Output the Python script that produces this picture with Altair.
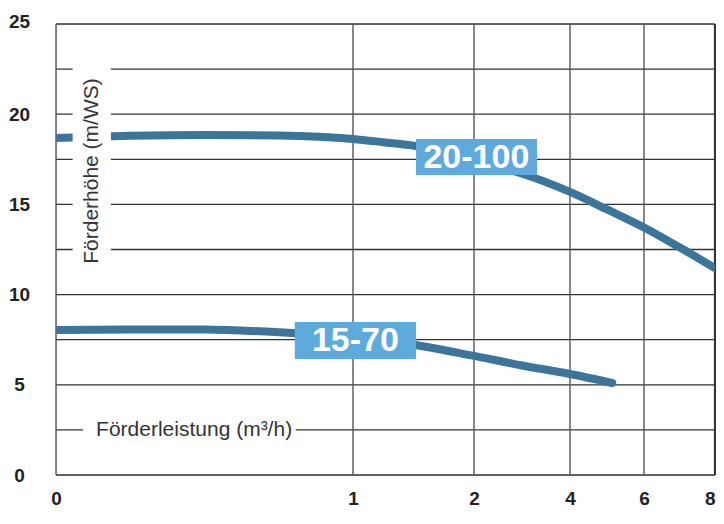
import altair as alt
import pandas as pd

# ---- data ----
x_ticks = [0, 1, 2, 4, 6, 8]
y_ticks = [0, 5, 10, 15, 20, 25]
grid_y = [0, 2.5, 5, 7.5, 10, 12.5, 15, 17.5, 20, 22.5, 25]
grid_x = [0, 1, 2, 4, 6, 8]

q_20_100 = [0, 0.25, 0.5, 0.75, 1.0, 1.25, 1.52, 2.0, 2.5, 2.96, 4.0, 5.0, 6.0, 7.0, 8.0]
h_20_100 = [18.68, 18.8, 18.85, 18.82, 18.63, 18.45, 18.24, 17.45, 17.1, 16.74, 15.69, 14.72, 13.72, 12.62, 11.47]

q_15_70 = [0, 0.25, 0.5, 0.8, 1.0, 1.52, 2.0, 3.0, 4.0, 5.14]
h_15_70 = [8.04, 8.07, 8.06, 7.87, 7.68, 7.21, 6.6, 6.07, 5.6, 5.1]

series_names = ["20-100", "15-70"]
# label boxes (data units): x1, x2, y1, y2, text x, text y
box_x1 = [1.521, 0.804]
box_x2 = [3.3125, 1.521]
box_y1 = [18.63, 8.48]
box_y2 = [16.63, 6.43]
box_tx = [2.05, 1.02]
box_ty = [17.63, 7.46]

y_title = "Förderhöhe (m/WS)"
x_title = "Förderleistung (m³/h)"
# annotation positions (data units) and their white backgrounds
ytitle_pos = (0.12, 16.85)
ytitle_bg = (0.056, 0.185, 22.8, 11.5)
xtitle_pos = (0.465, 2.5)
xtitle_bg = (0.091, 0.807, 3.0, 2.0)

# ---- scales (hand-drawn, piecewise x axis) ----
xs = alt.Scale(domain=x_ticks, range=[0, 297, 418, 514, 588, 659], nice=False, zero=False)
ys = alt.Scale(domain=[0, 25], nice=False, zero=False)

LINE = "#3d7499"
BOX = "#5eaadd"
GRID = "#333333"
FONT = "Liberation Sans"

df_gy = pd.DataFrame({"y": grid_y})
df_gx = pd.DataFrame({"x": grid_x})

hgrid = alt.Chart(df_gy).mark_rule(color=GRID, strokeWidth=1.3).encode(
    y=alt.Y("y:Q", scale=ys, axis=alt.Axis(values=y_ticks, title=None, grid=False, domain=False,
                                           ticks=False, tickSize=0, labelAlign="center",
                                           labelBaseline="middle", labelPadding=37, format="d",
                                           labelOffset=alt.ExprRef(expr="datum.value == 25 ? -3 : 0"),
                                           labelFontSize=19, labelFont=FONT, labelFontWeight="bold",
                                           labelColor="#222222", labelFlush=False, labelOverlap=False))
)
vgrid = alt.Chart(df_gx).mark_rule(color="#555555", strokeWidth=1.4).encode(
    x=alt.X("x:Q", scale=xs, axis=alt.Axis(values=x_ticks, title=None, grid=False, domain=False,
                                           ticks=False, tickSize=0,
                                           labelAlign=alt.ExprRef(expr="datum.value == 8 ? 'right' : 'center'"),
                                           labelBaseline="middle", labelPadding=23, format="d",
                                           labelFontSize=19, labelFont=FONT, labelFontWeight="bold",
                                           labelColor="#222222", labelFlush=False, labelOverlap=False))
)
right_border = alt.Chart(pd.DataFrame({"x": [x_ticks[-1]]})).mark_rule(color=GRID, strokeWidth=2.2).encode(
    x=alt.X("x:Q", scale=xs)
)

df_lines = pd.concat([
    pd.DataFrame({"q": q_20_100, "h": h_20_100, "s": series_names[0]}),
    pd.DataFrame({"q": q_15_70, "h": h_15_70, "s": series_names[1]}),
])
curves = alt.Chart(df_lines).mark_line(color=LINE, strokeWidth=8, strokeCap="round",
                                       interpolate="monotone", clip=True).encode(
    x=alt.X("q:Q", scale=xs), y=alt.Y("h:Q", scale=ys), detail="s:N"
)

df_box = pd.DataFrame({"x1": box_x1, "x2": box_x2, "y1": box_y1, "y2": box_y2,
                       "tx": box_tx, "ty": box_ty, "s": series_names})
boxes = alt.Chart(df_box).mark_rect(color=BOX).encode(
    x=alt.X("x1:Q", scale=xs), x2="x2:Q", y=alt.Y("y1:Q", scale=ys), y2="y2:Q"
)
box_text = alt.Chart(df_box).mark_text(color="white", font=FONT, fontWeight="bold", fontSize=34,
                                       align="center", baseline="middle", dy=1).encode(
    x=alt.X("tx:Q", scale=xs), y=alt.Y("ty:Q", scale=ys), text="s:N"
)

df_bg = pd.DataFrame({"x1": [ytitle_bg[0], xtitle_bg[0]], "x2": [ytitle_bg[1], xtitle_bg[1]],
                      "y1": [ytitle_bg[2], xtitle_bg[2]], "y2": [ytitle_bg[3], xtitle_bg[3]]})
bgs = alt.Chart(df_bg).mark_rect(color="white").encode(
    x=alt.X("x1:Q", scale=xs), x2="x2:Q", y=alt.Y("y1:Q", scale=ys), y2="y2:Q"
)

df_yt = pd.DataFrame({"x": [ytitle_pos[0]], "y": [ytitle_pos[1]], "t": [y_title]})
ytitle = alt.Chart(df_yt).mark_text(font=FONT, fontSize=21, color="#333333", angle=270,
                                    align="center", baseline="middle").encode(
    x=alt.X("x:Q", scale=xs), y=alt.Y("y:Q", scale=ys), text="t:N"
)
df_xt = pd.DataFrame({"x": [xtitle_pos[0]], "y": [xtitle_pos[1]], "t": [x_title]})
xtitle = alt.Chart(df_xt).mark_text(font=FONT, fontSize=21, color="#333333",
                                    align="center", baseline="middle").encode(
    x=alt.X("x:Q", scale=xs), y=alt.Y("y:Q", scale=ys), text="t:N"
)

chart = alt.layer(hgrid, vgrid, right_border, curves, boxes, box_text, bgs, ytitle, xtitle).properties(
    width=659, height=451,
    autosize=alt.AutoSizeParams(type="none"),
    padding={"left": 48, "top": 16, "right": 1, "bottom": 35},
).configure_view(stroke=None).configure(background="white")

chart.save("out.html", embed_options={"renderer": "svg", "actions": False})
